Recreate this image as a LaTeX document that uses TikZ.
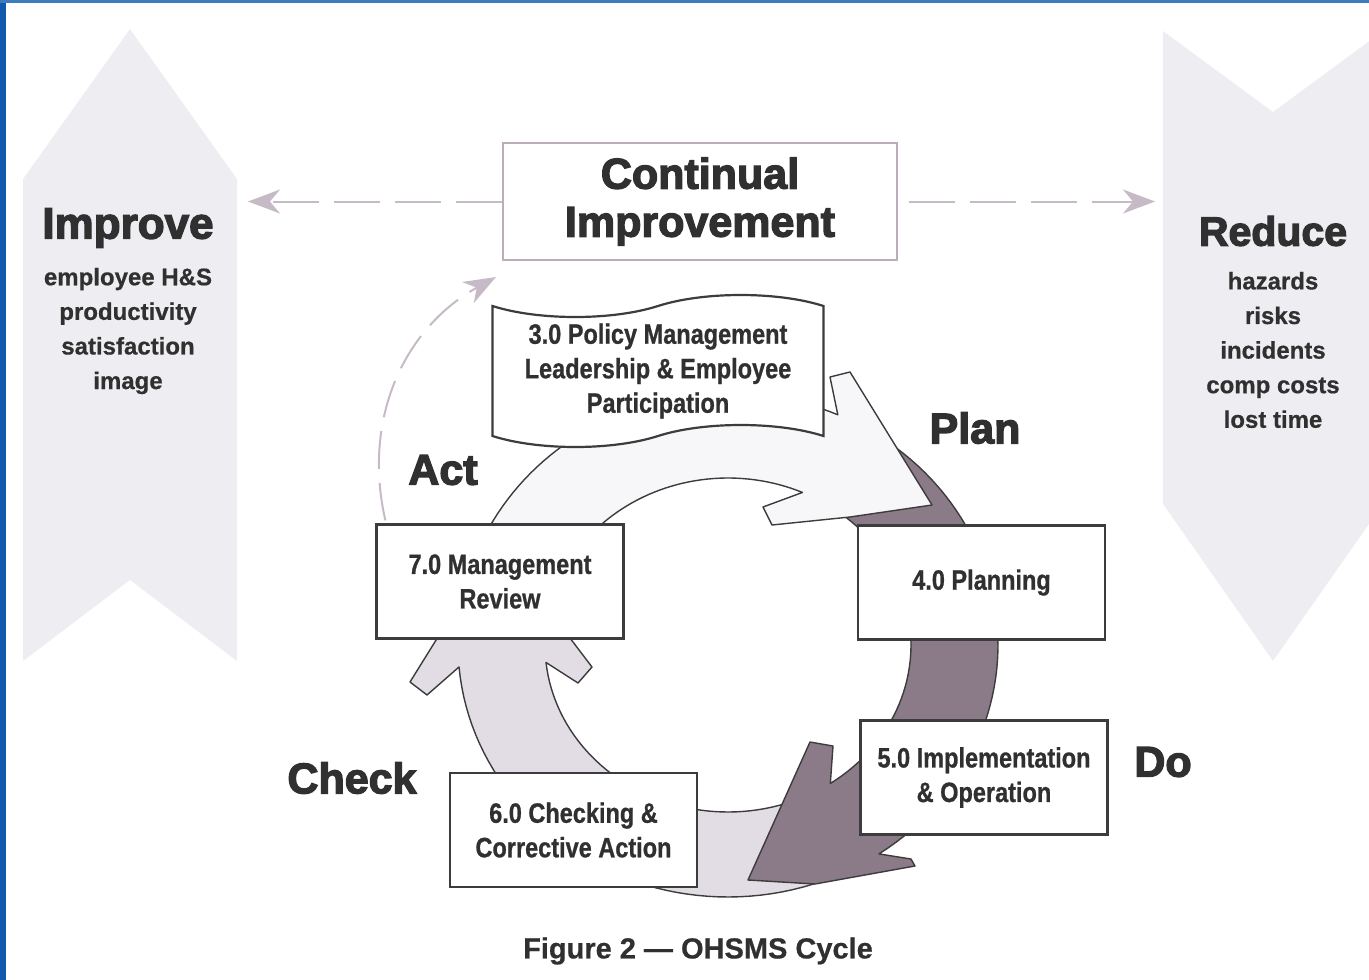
\documentclass[tikz,border=0pt]{standalone}
\usepackage{fontspec}
\setmainfont{Liberation Sans}
\newfontfamily\condfont{Liberation Sans}[FakeStretch=0.84, FakeBold=0.8]
\newfontfamily\heavyfont{Liberation Sans}[FakeBold=3]
\newfontfamily\listfont{Liberation Sans}[FakeBold=0.6]
\usepackage{tikz}
\usetikzlibrary{arrows.meta, shapes.symbols, calc}

\definecolor{inkgray}{HTML}{303030}
\definecolor{boxline}{HTML}{3C3C3C}
\definecolor{bannerfill}{HTML}{EEEDF1}
\definecolor{dashmauve}{HTML}{C6BAC7}
\definecolor{ciline}{HTML}{B9AEB9}
\definecolor{darkmauve}{HTML}{8B7B88}
\definecolor{lightmauve}{HTML}{E2DCE5}
\definecolor{paleflow}{HTML}{F7F6F8}
\definecolor{frameblue}{HTML}{105AAE}

\tikzset{
  stagebox/.style={draw=boxline, line width=2.2pt, fill=white, minimum width=247pt,
    minimum height=114pt, inner sep=0pt, align=center, text=inkgray,
    font=\condfont\bfseries\fontsize{28}{34.5}\selectfont},
  phaselabel/.style={text=inkgray, inner sep=0pt, font=\heavyfont\bfseries\fontsize{43}{48}\selectfont},
  bannerlist/.style={text=inkgray, inner sep=0pt, align=center, font=\listfont\bfseries\fontsize{24}{34.6}\selectfont},
  flowarrow/.style={draw=boxline, line width=1.4pt, line join=round},
  cidash/.style={draw=dashmauve, line width=2pt, dash pattern=on 46pt off 15pt,
    -{Stealth[length=32pt, width=24pt, inset=10pt]}},
}

\begin{document}
\begin{tikzpicture}[x=1pt, y=1pt, yscale=-1]
  \useasboundingbox (0,0) rectangle (1369,980);
  \clip (0,0) rectangle (1369,980);
  % Marco azul
  \fill[frameblue] (0,0) rectangle (6,980);
  \fill[frameblue!80] (0,0) rectangle (1369,3);
  % Banderas laterales
  \fill[bannerfill] (130,29) -- (237,179) -- (237,661) -- (130,580) -- (23,661) -- (23,179) -- cycle;
  \fill[bannerfill] (1163,31) -- (1273,112) -- (1383,31) -- (1383,504) -- (1273,661) -- (1163,504) -- cycle;
  \node[phaselabel, font=\heavyfont\bfseries\fontsize{44}{48}\selectfont] (improve) at (128,228) {Improve};
  \node[bannerlist] (improvelist) at (128,331) {employee H\&S\\productivity\\satisfaction\\image};
  \node[phaselabel, font=\heavyfont\bfseries\fontsize{41}{48}\selectfont] (reduce) at (1273,231) {Reduce};
  \node[bannerlist] (reducelist) at (1273,350) {hazards\\risks\\incidents\\comp costs\\lost time};
  % Mejora continua
  \node[draw=ciline, line width=2pt, fill=white, minimum width=394pt, minimum height=117pt,
    align=center, text=inkgray, font=\heavyfont\bfseries\fontsize{43}{48}\selectfont]
    (improvement) at (700,201.5) {Continual\\Improvement};
  \coordinate (improvetip) at (248,201.5);
  \coordinate (reducetip) at (1155,201.5);
  \draw[cidash] (improvement.west) -- (improvetip);
  \draw[cidash, dash phase=50pt] (improvement.east) -- (reducetip);
  % Ciclo: Check -> Act
  \filldraw[flowarrow, fill=lightmauve]
    plot[domain=65:175, samples=50] ({728+270*cos(\x)},{645+252*sin(\x)})
    -- (427,695) -- (410,682) -- (497,542) -- (592,667) -- (578,683)
    -- plot[domain=174:65, samples=50] ({728+183*cos(\x)},{645+167*sin(\x)}) -- cycle;
  % Plan -> Do
  \filldraw[flowarrow, fill=darkmauve]
    plot[domain=-52:56, samples=50] ({728+270*cos(\x)},{645+252*sin(\x)})
    -- (911,859) -- (915,866) -- (815,884) -- (748,880) -- (810,742) -- (833,746)
    -- plot[domain=56:-52, samples=50] ({728+183*cos(\x)},{645+167*sin(\x)}) -- cycle;
  % Act -> Plan
  \filldraw[flowarrow, fill=paleflow]
    plot[domain=200:294, samples=50] ({728+270*cos(\x)},{645+252*sin(\x)})
    -- (830,377) -- (850,372) -- (932,505) -- (850,517) -- (772,525) -- (763,507)
    -- plot[domain=294:200, samples=50] ({728+183*cos(\x)},{645+167*sin(\x)}) -- cycle;
  % Cajas
  \node[stagebox, tape, tape bend top=in and out, tape bend bottom=in and out,
    tape bend height=22pt, minimum width=331pt, minimum height=152pt]
    (policy) at (658,371) {3.0 Policy Management\\Leadership \& Employee\\Participation};
  \node[stagebox] (planning) at (981.5,582.5) {4.0 Planning};
  \node[stagebox] (implement) at (984,777.5) {5.0 Implementation\\\& Operation};
  \node[stagebox] (checking) at (573.5,830) {6.0 Checking \&\\Corrective Action};
  \node[stagebox] (review) at (500,581.5) {7.0 Management\\Review};
  % Flecha punteada Act
  \draw[cidash, dash pattern=on 38pt off 14pt] ($(review.north west)+(10,-3)$)
    to[out=257, in=151] ($(improvement.south west)+(-6,16)$);
  % Etiquetas
  \node[phaselabel] (plan) at (975,428) {Plan};
  \node[phaselabel] (act) at (443,470) {Act};
  \node[phaselabel] (check) at (352,778) {Check};
  \node[phaselabel] (do) at (1163,762) {Do};
  \node[text=inkgray, font=\listfont\bfseries\fontsize{29}{34}\selectfont] (caption) at (698,951) {Figure 2 — OHSMS Cycle};
\end{tikzpicture}
\end{document}
